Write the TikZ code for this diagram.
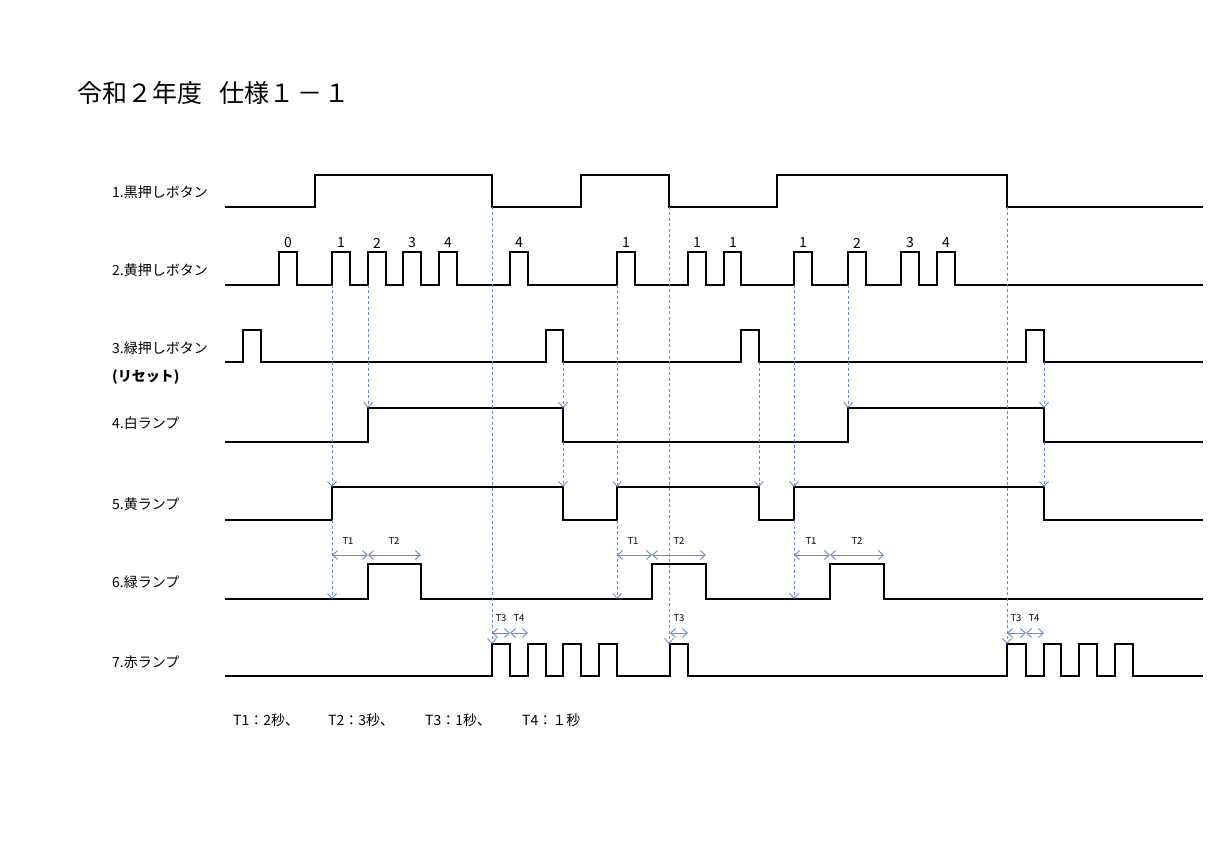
\documentclass[tikz,border=0pt]{standalone}
\usepackage{fontspec}
\setmainfont{Noto Sans CJK JP}
\usetikzlibrary{arrows.meta}
\definecolor{dashblue}{RGB}{105,140,200}
\begin{document}
\begin{tikzpicture}[x=1pt,y=-1pt,
  sig/.style={line width=2pt,line join=miter,black},
  dasharrow/.style={dashblue,line width=0.9pt,dash pattern=on 3pt off 2.5pt,
    -{Straight Barb[length=5pt,width=9pt,line width=0.9pt]}},
  tarrow/.style={dashblue,line width=0.9pt,
    {Straight Barb[length=5pt,width=9pt,line width=0.9pt]}-{Straight Barb[length=5pt,width=9pt,line width=0.9pt]}},
  lbl/.style={anchor=west,font=\fontsize{14}{16}\selectfont,inner sep=0pt},
  num/.style={font=\fontsize{14}{16}\selectfont,inner sep=0pt},
  tl/.style={font=\fontsize{9.5}{11}\selectfont,inner sep=0pt},
  foot/.style={anchor=west,font=\fontsize{14}{16}\selectfont,inner sep=0pt}]
\fill[white] (0,0) rectangle (1220,858);
\useasboundingbox (0,0) rectangle (1220,858);

% title
\node[anchor=west,inner sep=0pt,font=\fontsize{25}{29}\selectfont] (title) at (77,93) {令和２年度\hspace{0.7em}仕様１\hspace{0.1em}－\hspace{0.1em}１};

% labels
\node[lbl] (l1) at (112,192) {1.黒押しボタン};
\node[lbl] (l2) at (112,270) {2.黄押しボタン};
\node[lbl] (l3) at (112,348) {3.緑押しボタン};
\node[lbl,font=\fontsize{14}{16}\selectfont\bfseries] (l3b) at (112,377) {(リセット)};
\node[lbl] (l4) at (112,423) {4.白ランプ};
\node[lbl] (l5) at (112,504) {5.黄ランプ};
\node[lbl] (l6) at (112,582) {6.緑ランプ};
\node[lbl] (l7) at (112,662) {7.赤ランプ};

% signal 1
\draw[sig] (225,207) -- (315,207) -- (315,175) -- (492,175) -- (492,207) -- (581,207) -- (581,175)
  -- (669,175) -- (669,207) -- (777,207) -- (777,175) -- (1007,175) -- (1007,207) -- (1203,207);

% signal 2
\draw[sig] (225,285) \foreach \a/\b in {279/297,332/350,368/386,403/421,439/457,510/528,617/635,688/706,724/741,794/812,848/866,901/919,937/955}
  { -- (\a,285) -- (\a,252) -- (\b,252) -- (\b,285) } -- (1203,285);
\foreach \x/\t [count=\i] in {288/0,341/1,377/2,412/3,448/4,519/4,626/1,697/1,733/1,803/1,857/2,910/3,946/4}
  \node[num] (n\i) at (\x,243) {\t};

% signal 3
\draw[sig] (225,362) \foreach \a/\b in {243/261,546/563,741/759,1026/1044}
  { -- (\a,362) -- (\a,330) -- (\b,330) -- (\b,362) } -- (1203,362);

% signal 4
\draw[sig] (225,442) -- (368,442) -- (368,408) -- (563,408) -- (563,442) -- (848,442) -- (848,408)
  -- (1044,408) -- (1044,442) -- (1203,442);

% signal 5
\draw[sig] (225,520) -- (332,520) -- (332,487) -- (563,487) -- (563,520) -- (617,520) -- (617,487)
  -- (759,487) -- (759,520) -- (794,520) -- (794,487) -- (1044,487) -- (1044,520) -- (1203,520);

% signal 6
\draw[sig] (225,599) \foreach \a/\b in {368/421,652/706,830/884}
  { -- (\a,599) -- (\a,564) -- (\b,564) -- (\b,599) } -- (1203,599);

% signal 7
\draw[sig] (225,676) \foreach \a/\b in {492/510,528/546,563/581,599/617,670/688,1007/1026,1044/1061,1079/1097,1115/1133}
  { -- (\a,676) -- (\a,644) -- (\b,644) -- (\b,676) } -- (1203,676);

% dashed causal arrows
\foreach \x/\ya/\yb in {332/285/487,332/520/599,368/285/408,492/207/644,563/362/408,563/442/487,
  617/285/487,617/520/599,669/207/644,759/362/487,794/285/487,794/520/599,848/285/408,
  1007/207/644,1044/362/408,1044/442/487}
  \draw[dasharrow] (\x,\ya) -- (\x,\yb);

% timing arrows
\foreach \a/\b in {332/368,368/421,617/652,652/706,794/830,830/884}
  \draw[tarrow] (\a,555) -- (\b,555);
\foreach \a/\b in {492/510,510/528,670/688,1007/1026,1026/1044}
  \draw[tarrow] (\a,633) -- (\b,633);
\node[tl] (t1a) at (348,541) {T1};
\node[tl] (t2a) at (394,541) {T2};
\node[tl] (t1b) at (633,541) {T1};
\node[tl] (t2b) at (679,541) {T2};
\node[tl] (t1c) at (811,541) {T1};
\node[tl] (t2c) at (857,541) {T2};
\node[tl] (t3a) at (501,618) {T3};
\node[tl] (t4a) at (519,618) {T4};
\node[tl] (t3b) at (679,618) {T3};
\node[tl] (t3c) at (1016,618) {T3};
\node[tl] (t4c) at (1034,618) {T4};

% footnote
\node[foot] (f1) at (233,720) {T1：2秒、};
\node[foot] (f2) at (328,720) {T2：3秒、};
\node[foot] (f3) at (425,720) {T3：1秒、};
\node[foot] (f4) at (522,720) {T4：１秒};
\end{tikzpicture}
\end{document}
